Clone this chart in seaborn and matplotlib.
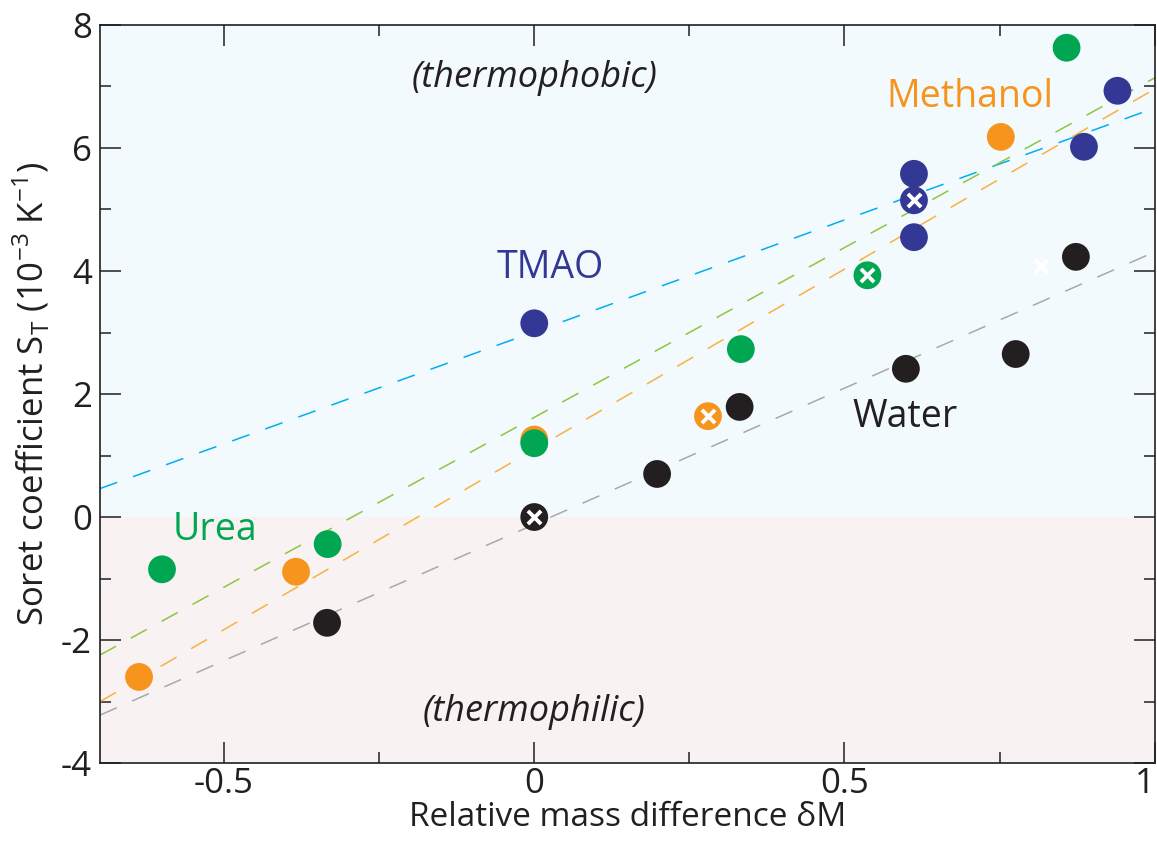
import numpy as np
import pandas as pd
import matplotlib
matplotlib.use("Agg")
import matplotlib.pyplot as plt
import seaborn as sns

# values
water_x = [-0.334, 0.198, 0.331, 0.599, 0.776, 0.873]
water_y = [-1.72, 0.70, 1.79, 2.41, 2.65, 4.23]
methanol_x = [-0.637, -0.384, 0.0, 0.752]
methanol_y = [-2.60, -0.89, 1.26, 6.18]
urea_x = [-0.600, -0.333, 0.0, 0.333, 0.858]
urea_y = [-0.85, -0.44, 1.20, 2.73, 7.63]
tmao_x = [0.0, 0.612, 0.612, 0.886, 0.940]
tmao_y = [3.15, 5.58, 4.55, 6.02, 6.93]

# points drawn with a white cross (reference solvent)
cross_x = [0.0, 0.280, 0.537, 0.612]
cross_y = [0.0, 1.64, 3.93, 5.15]
cross_group = ["Water", "Methanol", "Urea", "TMAO"]
lone_cross_x = [0.816]
lone_cross_y = [4.08]

# linear fits: intercept, slope
fit_groups = ["TMAO", "Urea", "Methanol", "Water"]
fit_intercept = [3.01, 1.62, 1.10, -0.12]
fit_slope = [3.64, 5.52, 5.86, 4.43]

dot_colors = {"Water": "#231f20", "Methanol": "#f7941d", "Urea": "#00a651", "TMAO": "#333894"}
line_colors = {"TMAO": "#00aeef", "Urea": "#8dc63f", "Methanol": "#fbb040", "Water": "#a7a9ac"}

sns.set_style("ticks")
plt.rcParams["font.family"] = ["Open Sans", "DejaVu Sans"]
plt.rcParams["axes.unicode_minus"] = False
plt.rcParams["mathtext.fontset"] = "custom"
plt.rcParams["mathtext.rm"] = "Open Sans"

ink = "#231f20"

pts = pd.concat([
    pd.DataFrame({"x": water_x, "y": water_y, "solvent": "Water"}),
    pd.DataFrame({"x": methanol_x, "y": methanol_y, "solvent": "Methanol"}),
    pd.DataFrame({"x": urea_x, "y": urea_y, "solvent": "Urea"}),
    pd.DataFrame({"x": tmao_x, "y": tmao_y, "solvent": "TMAO"}),
    pd.DataFrame({"x": cross_x, "y": cross_y, "solvent": cross_group}),
])

xr = np.array([-0.7, 1.0])
lines = pd.concat([
    pd.DataFrame({"x": xr, "y": b + m * xr, "fit": g})
    for g, b, m in zip(fit_groups, fit_intercept, fit_slope)
])

fig = plt.figure(figsize=(11.57, 8.41), dpi=100)
ax = fig.add_axes([0.0864, 0.0927, 0.9116, 0.8776])

ax.axhspan(0, 8, color="#f2fafd", zorder=0, lw=0)
ax.axhspan(-4, 0, color="#f8f2f2", zorder=0, lw=0)

for g in fit_groups:
    d = lines[lines["fit"] == g]
    sns.lineplot(data=d, x="x", y="y", color=line_colors[g], lw=1.1,
                 ax=ax, zorder=2, legend=False)
for l in ax.get_lines():
    l.set_dashes([12, 11])

sns.scatterplot(data=pts, x="x", y="y", hue="solvent", palette=dot_colors,
                s=400, linewidth=0, legend=False, ax=ax, zorder=3)
ax.scatter(cross_x, cross_y, marker="x", s=90, color="white", lw=2.8, zorder=4)
ax.scatter(lone_cross_x, lone_cross_y, marker="x", s=90, color="white", lw=2.8, zorder=4)

ax.text(0, 7.14, "(thermophobic)", style="italic", fontsize=26, color=ink, ha="center", va="center")
ax.text(0, -3.17, "(thermophilic)", style="italic", fontsize=26, color=ink, ha="center", va="center")
ax.text(-0.515, -0.21, "Urea", fontsize=27, color=dot_colors["Urea"], ha="center", va="center")
ax.text(0.025, 4.05, "TMAO", fontsize=27, color=dot_colors["TMAO"], ha="center", va="center")
ax.text(0.702, 6.83, "Methanol", fontsize=27, color=dot_colors["Methanol"], ha="center", va="center")
ax.text(0.597, 1.63, "Water", fontsize=27, color=ink, ha="center", va="center")

ax.set_xlim(-0.7, 1.0)
ax.set_ylim(-4, 8)
ax.set_xticks([-0.5, 0, 0.5, 1])
ax.set_xticklabels(["-0.5", "0", "0.5", "1"])
ax.set_xticks([-0.25, 0.25, 0.75], minor=True)
ax.set_yticks([-4, -2, 0, 2, 4, 6, 8])
ax.set_yticks([-3, -1, 1, 3, 5, 7], minor=True)

ax.set_xlabel("Relative mass difference δM", fontsize=24, color=ink, labelpad=0)
ax.set_ylabel("Soret coefficient S$_\\mathregular{T}$ (10$^\\mathregular{-3}$ K$^\\mathregular{-1}$)",
              fontsize=25, color=ink, labelpad=6)

for s in ax.spines.values():
    s.set_visible(True)
    s.set_linewidth(1.2)
    s.set_color(ink)
ax.tick_params(which="both", direction="in", top=True, right=True, colors=ink, width=1.1)
ax.tick_params(which="major", length=15, labelsize=25, pad=6)
ax.tick_params(axis="x", which="major", pad=3)
ax.tick_params(which="minor", length=8)
ax.get_xticklabels()[-1].set_horizontalalignment("right")

fig.savefig("out.png", dpi=100)
